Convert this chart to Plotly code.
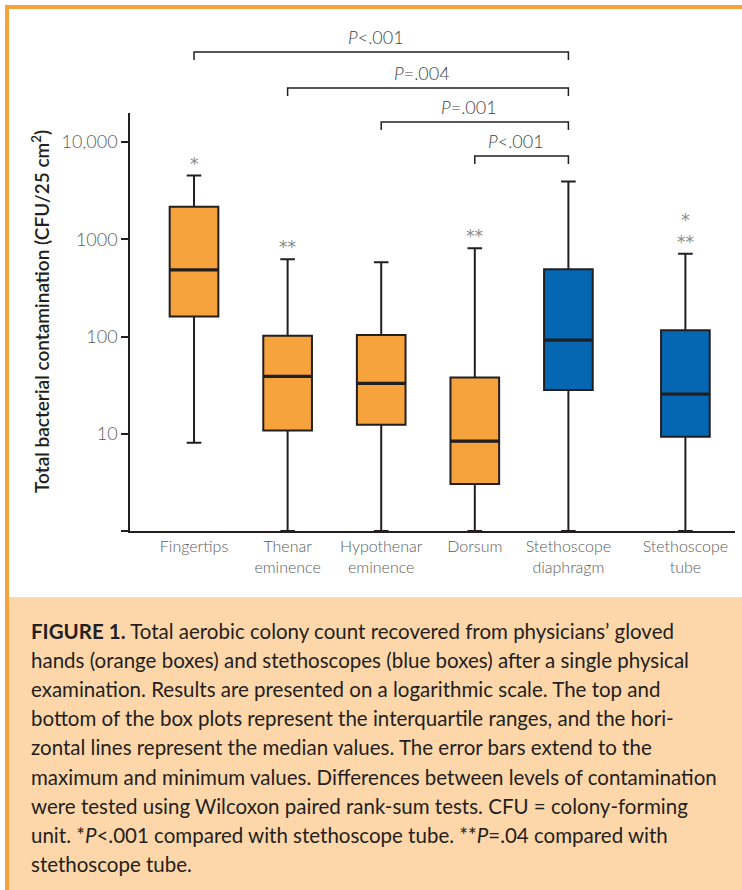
import math
import plotly.graph_objects as go

# ---------------- data ----------------
categories = ["Fingertips", "Thenar<br>eminence", "Hypothenar<br>eminence", "Dorsum",
              "Stethoscope<br>diaphragm", "Stethoscope<br>tube"]
positions = [1, 2, 3, 4, 5, 6.25]
group = ["hand", "hand", "hand", "hand", "stethoscope", "stethoscope"]
minimum = [8.1, 1, 1, 1, 1, 1]
q1 = [161, 10.8, 12.4, 3.05, 28.2, 9.3]
median = [485, 38.9, 33, 8.4, 92, 25.6]
q3 = [2160, 102, 104, 38, 494, 116]
maximum = [4530, 626, 583, 812, 3930, 710]
significance = ["*", "**", "", "**", "", "*<br>**"]
comparisons = [(0, 4, "<i>P</i>&lt;.001"), (1, 4, "<i>P</i>=.004"),
               (2, 4, "<i>P</i>=.001"), (3, 4, "<i>P</i>&lt;.001")]
ytick_vals = [10, 100, 1000, 10000]
ytick_text = ["10", "100", "1000", "10,000"]
ytick_minor = [1]

caption_lines = [
    "<b>FIGURE 1.</b> Total aerobic colony count recovered from physicians\u2019 gloved",
    "hands (orange boxes) and stethoscopes (blue boxes) after a single physical",
    "examination. Results are presented on a logarithmic scale. The top and",
    "bottom of the box plots represent the interquartile ranges, and the hori-",
    "zontal lines represent the median values. The error bars extend to the",
    "maximum and minimum values. Differences between levels of contamination",
    "were tested using Wilcoxon paired rank-sum tests. CFU = colony-forming",
    "unit. *<i>P</i>&lt;.001 compared with stethoscope tube. **<i>P</i>=.04 compared with",
    "stethoscope tube.",
]

# ---------------- style ----------------
W, H = 742, 890
L, R, T, B = 130, 735, 113, 531
ORANGE = "#F7A33D"
BLUE = "#0566B1"
PEACH = "#FDD6A9"
DARK = "#231F20"
GREY = "#5C5C5C"
FONT = "Lato, 'Open Sans', sans-serif"
BOXW = 0.52


def px_x(p):
    return (p - L) / (R - L)


def px_y(p):
    return (B - p) / (B - T)


fig = go.Figure()
colors = {"hand": ORANGE, "stethoscope": BLUE}
for g in ["hand", "stethoscope"]:
    idx = [i for i, gg in enumerate(group) if gg == g]
    fig.add_trace(go.Box(
        x=[positions[i] for i in idx],
        q1=[q1[i] for i in idx],
        median=[median[i] for i in idx],
        q3=[q3[i] for i in idx],
        lowerfence=[minimum[i] for i in idx],
        upperfence=[maximum[i] for i in idx],
        width=BOXW,
        whiskerwidth=0.3,
        fillcolor=colors[g],
        line=dict(color=DARK, width=2),
        hoverinfo="skip",
        showlegend=False,
    ))

# thicker median lines
mx, my = [], []
for p, m in zip(positions, median):
    mx += [p - BOXW / 2, p + BOXW / 2, None]
    my += [m, m, None]
fig.add_trace(go.Scatter(x=mx, y=my, mode="lines", line=dict(color=DARK, width=3.2),
                         hoverinfo="skip", showlegend=False))

annotations = []
shapes = []

# significance stars
for p, mval, s in zip(positions, maximum, significance):
    if s:
        annotations.append(dict(x=p, y=math.log10(mval), xref="x", yref="y",
                                text=s, showarrow=False, yanchor="bottom", yshift=0,
                                font=dict(family="DejaVu Sans", size=17, color="#8A8A8A")))

# comparison brackets
bracket_px = [52, 88, 122, 156]
for (a, b, lab), by in zip(comparisons, bracket_px):
    xa, xb = positions[a], positions[b]
    shapes.append(dict(type="path", xref="x", yref="paper",
                       path=f"M {xa},{px_y(by + 8)} L {xa},{px_y(by)} L {xb},{px_y(by)} L {xb},{px_y(by + 8)}",
                       line=dict(color=DARK, width=1.5)))
    annotations.append(dict(x=(xa + xb) / 2 - 0.06, y=px_y(by), xref="x", yref="paper",
                            text=lab, showarrow=False, yanchor="bottom", yshift=2,
                            font=dict(family=FONT, size=18, color="#444444", weight=300)))

# y title
annotations.append(dict(x=px_x(40), y=px_y(312), xref="paper", yref="paper",
                        text="Total bacterial contamination (CFU/25 cm<sup>2</sup>)",
                        textangle=-90, showarrow=False, xanchor="center", yanchor="middle",
                        font=dict(family=FONT, size=19, color=DARK, weight=600)))

# frame and caption background
shapes.append(dict(type="rect", xref="paper", yref="paper", layer="below",
                   x0=px_x(8), x1=px_x(W + 2), y0=px_y(H + 2), y1=px_y(597),
                   fillcolor=PEACH, line=dict(width=0)))
shapes.append(dict(type="rect", xref="paper", yref="paper",
                   x0=px_x(5), x1=px_x(W + 2), y0=px_y(9), y1=px_y(5),
                   fillcolor=ORANGE, line=dict(width=0)))
shapes.append(dict(type="rect", xref="paper", yref="paper",
                   x0=px_x(5), x1=px_x(9), y0=px_y(H + 2), y1=px_y(5),
                   fillcolor=ORANGE, line=dict(width=0)))

for i, line in enumerate(caption_lines):
    annotations.append(dict(x=px_x(29), y=px_y(631 + i * 29.1), xref="paper", yref="paper",
                            text=line, showarrow=False, xanchor="left", yanchor="middle",
                            font=dict(family=FONT, size=20.5, color=DARK)))

fig.update_layout(
    width=W, height=H, autosize=False,
    margin=dict(l=L, r=W - R, t=T, b=H - B, pad=0),
    paper_bgcolor="white", plot_bgcolor="white",
    boxmode="overlay",
    showlegend=False,
    shapes=shapes, annotations=annotations,
    xaxis=dict(range=[0.316, 6.78], tickvals=positions, ticktext=categories,
               showline=True, linecolor=DARK, linewidth=1.5, ticks="",
               showgrid=False, zeroline=False,
               tickfont=dict(family=FONT, size=16, color=GREY, weight=300)),
    yaxis=dict(type="log", range=[0, 4.30], tickvals=ytick_vals, ticktext=ytick_text,
               showline=True, linecolor=DARK, linewidth=1.5, ticks="outside",
               ticklen=7, tickwidth=1.5, tickcolor=DARK, showgrid=False, zeroline=False,
               minor=dict(tickvals=ytick_minor, ticks="outside", ticklen=7, tickwidth=1.5,
                          tickcolor=DARK, showgrid=False),
               tickfont=dict(family=FONT, size=18, color=GREY, weight=300)),
)

fig.write_html("out.html", config={"displayModeBar": False},
               post_script="document.body.style.margin='0';document.body.style.overflow='hidden';")
